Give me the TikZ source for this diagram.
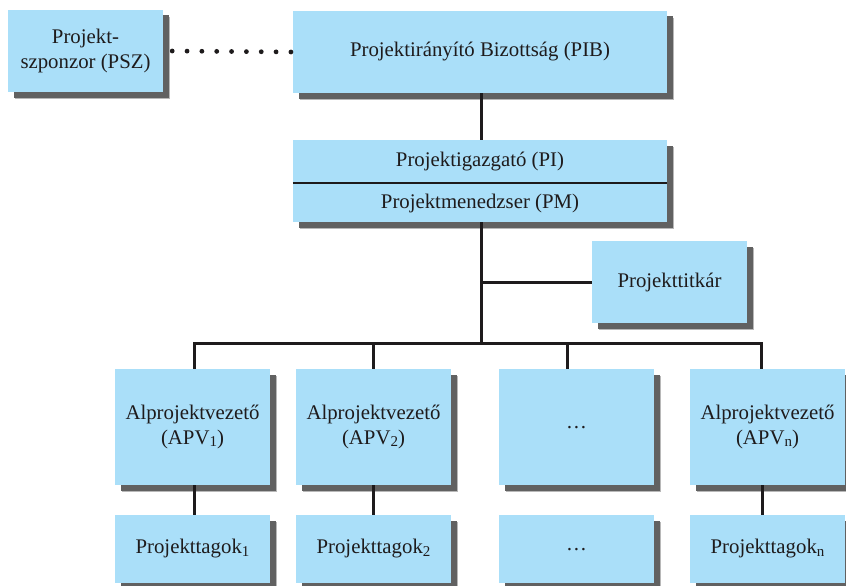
\documentclass[tikz,border=0pt]{standalone}
\usepackage{fontspec}
\setmainfont{Liberation Serif}
\usetikzlibrary{shadows}
\definecolor{boxblue}{RGB}{170,223,249}
\definecolor{ink}{RGB}{30,27,28}
% index set slightly below the baseline, a little smaller than the text
\newcommand{\subidx}[1]{\raisebox{-2.5pt}{\fontsize{15}{15}\selectfont #1}}
\tikzset{
  orgbox/.style={rectangle, fill=boxblue, inner sep=0pt, align=center,
    text=ink, font=\fontsize{20.8}{24.6}\selectfont,
    drop shadow={shadow xshift=7pt, shadow yshift=-7pt, fill=black!28, opacity=1},
    drop shadow={shadow xshift=5.5pt, shadow yshift=-5.5pt, fill=black!62, opacity=1}},
  plain/.style={inner sep=0pt, text=ink, font=\fontsize{20.8}{24.6}\selectfont},
  link/.style={draw=ink, line width=3pt},
  dotline/.style={draw=ink, line width=4.8pt, line cap=round, dash pattern=on 0pt off 14.84pt}
}
\begin{document}
\begin{tikzpicture}[x=1pt, y=-1pt]
  \useasboundingbox (0,0) rectangle (846,586);

  % top level
  \node[orgbox, minimum width=155pt, minimum height=82pt] (psz) at (85.5,51) {Projekt-\\szponzor (PSZ)};
  \node[orgbox, minimum width=374pt, minimum height=82pt] (pib) at (480,52) {Projektirányító Bizottság (PIB)};

  % director / manager box with divider
  \node[orgbox, minimum width=374pt, minimum height=82pt] (pim) at (480,181) {};
  \draw[draw=ink, line width=1.3pt] (pim.west |- 0,183) -- (pim.east |- 0,183);
  \node[plain] (pi) at (480,162) {Projektigazgató (PI)};
  \node[plain] (pm) at (480,203) {Projektmenedzser (PM)};

  \node[orgbox, minimum width=155pt, minimum height=82pt] (sec) at (669.5,282) {Projekttitkár};

  % sub-project leaders
  \node[orgbox, minimum width=155pt, minimum height=116pt] (a1) at (192.5,427) {Alprojektvezető\\(APV\subidx{1})};
  \node[orgbox, minimum width=155pt, minimum height=116pt] (a2) at (373.5,427) {Alprojektvezető\\(APV\subidx{2})};
  \node[orgbox, minimum width=155pt, minimum height=116pt] (a3) at (576.5,427) {\raisebox{-4pt}{…}};
  \node[orgbox, minimum width=155pt, minimum height=116pt] (a4) at (767.5,427) {Alprojektvezető\\(APV\subidx{n})};

  % team members
  \node[orgbox, minimum width=155pt, minimum height=68pt] (t1) at (192.5,549) {Projekttagok\subidx{1}};
  \node[orgbox, minimum width=155pt, minimum height=68pt] (t2) at (373.5,549) {Projekttagok\subidx{2}};
  \node[orgbox, minimum width=155pt, minimum height=68pt] (t3) at (576.5,549) {\raisebox{-4pt}{…}};
  \node[orgbox, minimum width=155pt, minimum height=68pt] (t4) at (767.5,549) {Projekttagok\subidx{n}};

  % connectors
  \coordinate (bus) at (481,344);
  \draw[dotline] ([xshift=9pt]psz.east) -- ([xshift=-1pt]pib.west);
  \draw[link] ([xshift=1pt]pib.south) -- ([xshift=1pt]pim.north);
  \draw[link] ([xshift=1pt]pim.south) -- (bus);
  \draw[link] ([xshift=1pt]pim.south |- sec.west) -- (sec.west);
  \draw[link] ([xshift=1.5pt]a1.north) -- ++(0,-25) -| ([xshift=-6.5pt]a4.north);
  \draw[link] (a2.north) -- (a2.north |- bus);
  \draw[link] ([xshift=-9.5pt]a3.north) -- ([xshift=-9.5pt]a3.north |- bus);
  \draw[link] ([xshift=1.5pt]a1.south) -- ([xshift=1.5pt]t1.north);
  \draw[link] (a2.south) -- (t2.north);
  \draw[link] ([xshift=-5.5pt]a4.south) -- ([xshift=-5.5pt]t4.north);
\end{tikzpicture}
\end{document}
